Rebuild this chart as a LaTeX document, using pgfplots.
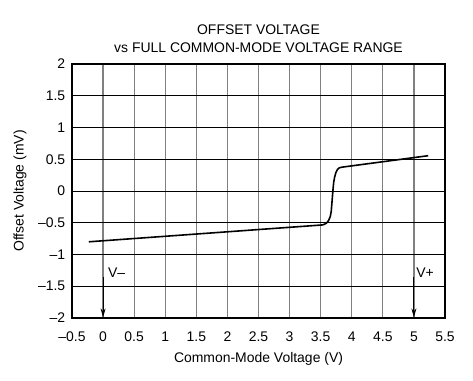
\documentclass[border=0pt]{standalone}
\usepackage{pgfplots}
\pgfplotsset{compat=1.18}
\usetikzlibrary{arrows.meta}
\usepackage{fontspec}
\setmainfont{Liberation Sans}
\begin{document}
\fontsize{14}{16.5}\selectfont
\begin{tikzpicture}
\begin{axis}[
  scale only axis,
  width=373bp, height=254bp,
  xmin=-0.5, xmax=5.5, ymin=-2, ymax=2,
  xtick={-0.5,0,0.5,1,1.5,2,2.5,3,3.5,4,4.5,5,5.5},
  xticklabels={–0.5,0,0.5,1,1.5,2,2.5,3,3.5,4,4.5,5,5.5},
  ytick={-2,-1.5,-1,-0.5,0,0.5,1,1.5,2},
  yticklabels={–2,–1.5,–1,–0.5,0,0.5,1,1.5,2},
  major tick length=0pt,
  xmajorgrids, ymajorgrids,
  x grid style={black!50, line width=1.3pt},
  y grid style={black, line width=0.8pt},
  axis line style={black, line width=1.7pt},
  xticklabel style={yshift=-9bp},
  yticklabel style={xshift=-2bp},
  xlabel={Common-Mode Voltage (V)},
  ylabel={Offset Voltage (mV)},
  xlabel style={yshift=-1bp},
  ylabel style={yshift=2bp},
  title={OFFSET VOLTAGE\\vs FULL COMMON-MODE VOLTAGE RANGE},
  title style={align=center, yshift=1bp, font=\fontsize{14}{17.5}\selectfont},
]
\addplot[black, line width=1.6pt, line join=round] coordinates {
  (-0.23,-0.80) (3.52,-0.535) (3.56,-0.525) (3.60,-0.50) (3.63,-0.46)
  (3.655,-0.40) (3.67,-0.32) (3.68,-0.20) (3.69,-0.08) (3.70,0.04)
  (3.71,0.14) (3.725,0.22) (3.745,0.29) (3.77,0.34) (3.80,0.365)
  (3.84,0.375) (5.23,0.556)
};
\draw[black, line width=0.9pt, -{Stealth[length=9pt,width=5pt]}] (axis cs:0,-1.36) -- (axis cs:0,-1.99);
\draw[black, line width=0.9pt, -{Stealth[length=9pt,width=5pt]}] (axis cs:5,-1.36) -- (axis cs:5,-1.99);
\node[anchor=west, inner sep=1pt] at (axis cs:0.06,-1.29) {V–};
\node[anchor=west, inner sep=1pt] at (axis cs:5.02,-1.29) {V+};
\end{axis}
\pgfresetboundingbox
\path (-72bp,-63bp) rectangle (401bp,318bp);
\end{tikzpicture}
\end{document}
